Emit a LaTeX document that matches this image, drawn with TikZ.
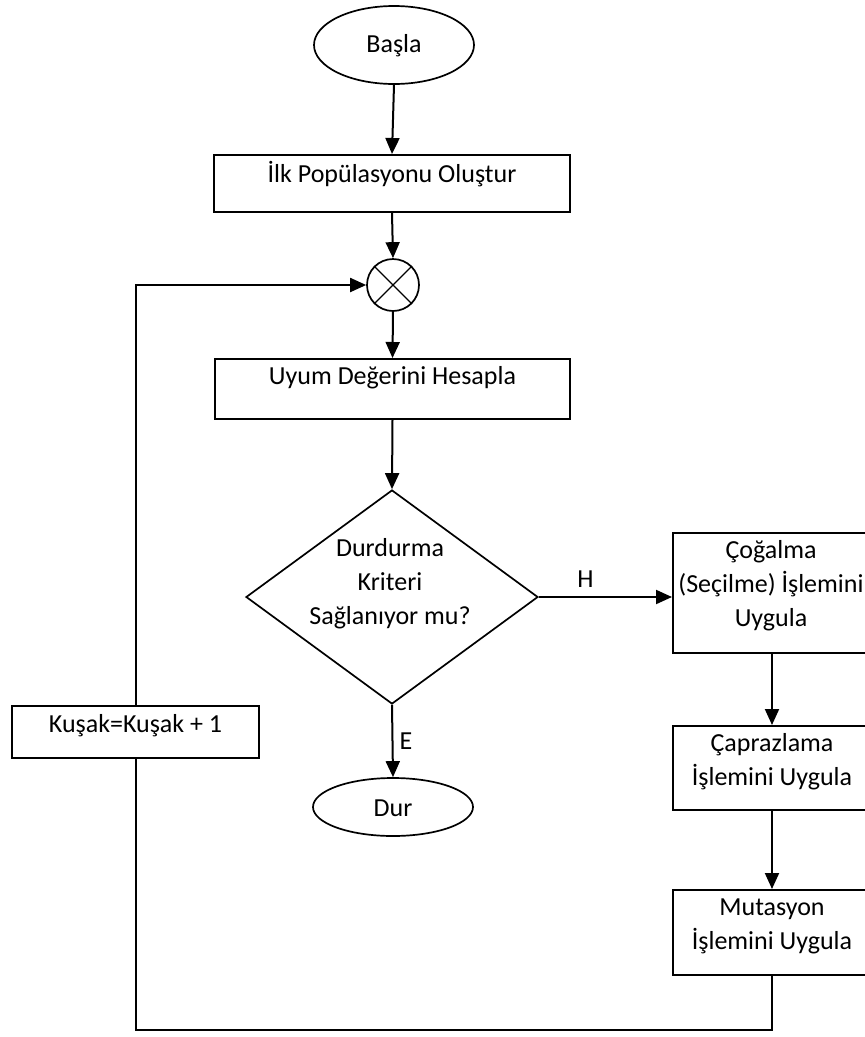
\documentclass[tikz,border=0pt]{standalone}
\usepackage{fontspec}
\setmainfont{Carlito}
\usetikzlibrary{shapes.geometric,arrows.meta}
\begin{document}
\begin{tikzpicture}[x=1pt,y=-1pt,
  line width=2pt,
  font=\fontsize{26}{34}\selectfont,
  box/.style={draw, rectangle, inner sep=0pt},
  oval/.style={draw, ellipse, inner sep=0pt, line width=1.7pt},
  txt/.style={inner sep=0pt, align=center},
  arr/.style={-{Triangle[length=16pt,width=14pt]}},
  ]
\clip (0,0) rectangle (865,1037);
% nodes
\node[oval, minimum width=160pt, minimum height=78pt] (basla) at (394,45) {};
\node[txt] (baslat) at (394,46) {Başla};
\node[box, minimum width=356pt, minimum height=57pt] (ilk) at (392,183.5) {};
\node[txt] (ilkt) at (392,174) {İlk Popülasyonu Oluştur};
\node[draw, circle, minimum size=52pt, inner sep=0pt, line width=1.7pt] (cx) at (393,285) {};
\draw[line width=1.4pt] (cx.north west) -- (cx.south east) (cx.north east) -- (cx.south west);
\node[box, minimum width=355pt, minimum height=60pt] (uyum) at (392.5,389) {};
\node[txt] (uyumt) at (392.5,378) {Uyum Değerini Hesapla};
\node[draw, diamond, aspect=1.364, minimum width=292pt, minimum height=214pt, inner sep=0pt, line width=1.7pt] (dia) at (392,597) {};
\node[txt] (diat) at (390,584) {Durdurma\\Kriteri\\Sağlanıyor mu?};
\node[box, minimum width=198pt, minimum height=120pt] (cog) at (772,593) {};
\node[txt] (cogt) at (771,586) {Çoğalma\\(Seçilme) İşlemini\\Uygula};
\node[box, minimum width=198pt, minimum height=84pt] (cap) at (772,768) {};
\node[txt] (capt) at (772,762) {Çaprazlama\\İşlemini Uygula};
\node[box, minimum width=198pt, minimum height=85pt] (mut) at (772,932.5) {};
\node[txt] (mutt) at (772,926) {Mutasyon\\İşlemini Uygula};
\node[box, minimum width=247pt, minimum height=52pt] (kusak) at (135.5,732) {};
\node[txt] (kusakt) at (135.5,726) {Kuşak=Kuşak + 1};
\node[oval, minimum width=160pt, minimum height=58pt] (dur) at (393,807) {};
\node[txt] (durt) at (393,808) {Dur};
% connectors
\draw[arr] (basla.south) -- (ilk.north);
\draw[arr] (ilk.south) -- (cx.north);
\draw[arr] (cx.south) -- (uyum.north);
\draw[arr] (uyum.south) -- (dia.north);
\draw[arr] (dia.east) -- (dia.east -| cog.west) node[pos=0.35, above=9pt, inner sep=0pt] (h) {H};
\draw[arr] (dia.south) -- (dur.north) node[pos=0.5, right=6pt, inner sep=0pt] (e) {E};
\draw[arr] (cog.south) -- (cap.north);
\draw[arr] (cap.south) -- (mut.north);
\coordinate (loopr) at (772,1030);
\draw (mut.south) -- (loopr) -| (kusak.south);
\draw[arr] (kusak.north) |- (cx.west);
\end{tikzpicture}
\end{document}
